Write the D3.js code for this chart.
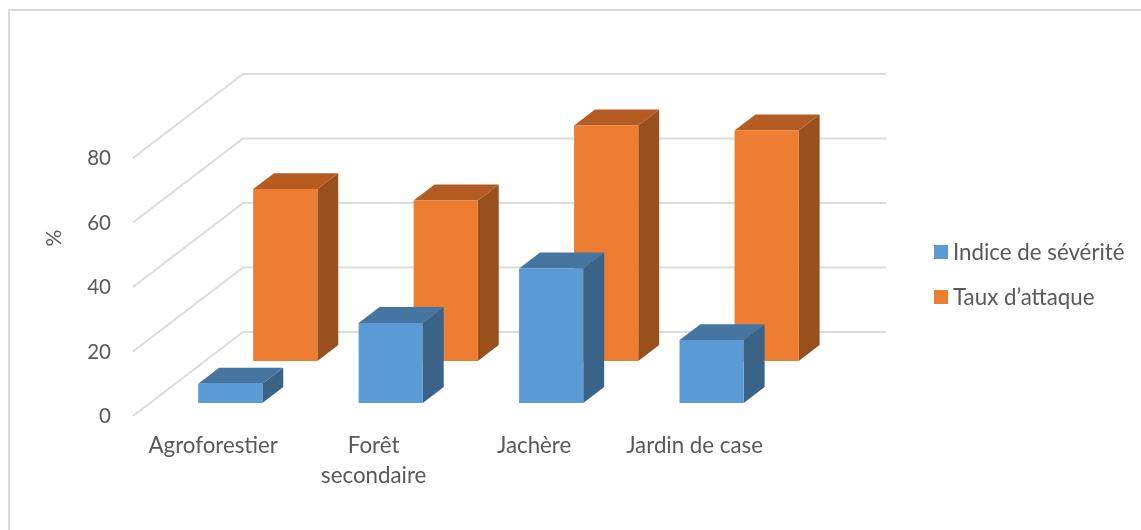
<!DOCTYPE html>
<html><head><meta charset="utf-8">
<script src="https://cdn.jsdelivr.net/npm/d3@7"></script>
<style>html,body{margin:0;padding:0;background:#fff}svg{display:block;filter:blur(0.55px)}text{font-family:Lato,"Open Sans",sans-serif;fill:#595959}</style>
</head><body><svg id="c" width="1141" height="530"></svg>
<script>
const categories = ["Agroforestier", "Forêt secondaire", "Jachère", "Jardin de case"];
const categoryLines = [["Agroforestier"], ["Forêt", "secondaire"], ["Jachère"], ["Jardin de case"]];
const seriesNames = ["Indice de sévérité", "Taux d’attaque"];
const severite = [6, 24.8, 41.7, 19.5];
const attaque = [53.3, 49.8, 73, 71.5];
const yTicks = [0, 20, 40, 60, 80];
const seriesColors = [
  {front:"#5B9BD5", top:"#4576A2", side:"#396488"},
  {front:"#ED7D31", top:"#B45C21", side:"#98501C"}
];
const seriesValues = [severite, attaque];

const svg = d3.select("#c");
const W = 1141, H = 530;
svg.append("rect").attr("x",9).attr("y",10).attr("width",W+20).attr("height",H+20)
  .attr("fill","#fff").attr("stroke","#d9d9d9").attr("stroke-width",2);

const x = d3.scaleBand().domain(categories).range([133,774.8]).paddingInner(0.6).paddingOuter(0.3);
const y = d3.scaleLinear().domain([0,80]).range([416,158]);
const z = d3.scaleBand().domain(seriesNames).range([0,1]).paddingInner(0.62).paddingOuter(0.31);
const depthX = 110, depthY = -84;
const P = (px, v, d) => [px + d*depthX, y(v) + d*depthY];
const path = pts => "M" + pts.map(p=>p.join(",")).join("L") + "Z";

// walls
const grid = svg.append("g").attr("fill","none").attr("stroke","#dcdcdc").attr("stroke-width",2);
yTicks.forEach(t=>{
  const a=P(133,t,0), b=P(133,t,1), c=P(776,t,1);
  grid.append("path").attr("d","M"+a+"L"+b+"L"+c);
});

// bars, back series first
[1,0].forEach(s=>{
  const name = seriesNames[s], col = seriesColors[s];
  const g = svg.append("g");
  categories.forEach((cat,i)=>{
    const v = seriesValues[s][i];
    const x0=x(cat), x1=x0+x.bandwidth(), d0=z(name), d1=d0+z.bandwidth();
    g.append("path").attr("fill",col.side).attr("d",path([P(x1,0,d0),P(x1,0,d1),P(x1,v,d1),P(x1,v,d0)]));
    g.append("path").attr("fill",col.top).attr("d",path([P(x0,v,d0),P(x1,v,d0),P(x1,v,d1),P(x0,v,d1)]));
    g.append("path").attr("fill",col.front).attr("d",path([P(x0,0,d0),P(x1,0,d0),P(x1,v,d0),P(x0,v,d0)]));
  });
});

// y axis
const FS = 22.3;
const yAxis = d3.axisLeft(y).tickValues(yTicks).tickSize(0).tickPadding(0);
const ya = svg.append("g").attr("transform","translate(111,0)").call(yAxis);
ya.select(".domain").remove();
ya.selectAll("text").attr("font-size",20.5).attr("dy","0.34em");
svg.append("text").attr("transform","translate(61,238) rotate(-90)").attr("text-anchor","middle").attr("font-size",21).text("%");

// x labels
categories.forEach((cat,i)=>{
  const t = svg.append("text").attr("text-anchor","middle").attr("font-size",FS);
  categoryLines[i].forEach((ln,j)=>{
    t.append("tspan").attr("x",x(cat)+x.bandwidth()/2).attr("y",453+j*30).text(ln);
  });
});

// legend
const ly = d3.scalePoint().domain(seriesNames).range([252,297]);
seriesNames.forEach((n,s)=>{
  svg.append("rect").attr("x",934).attr("y",ly(n)-7).attr("width",14).attr("height",14).attr("fill",seriesColors[s].front);
  svg.append("text").attr("x",953).attr("y",ly(n)+7.5).attr("font-size",FS).text(n);
});
</script></body></html>
